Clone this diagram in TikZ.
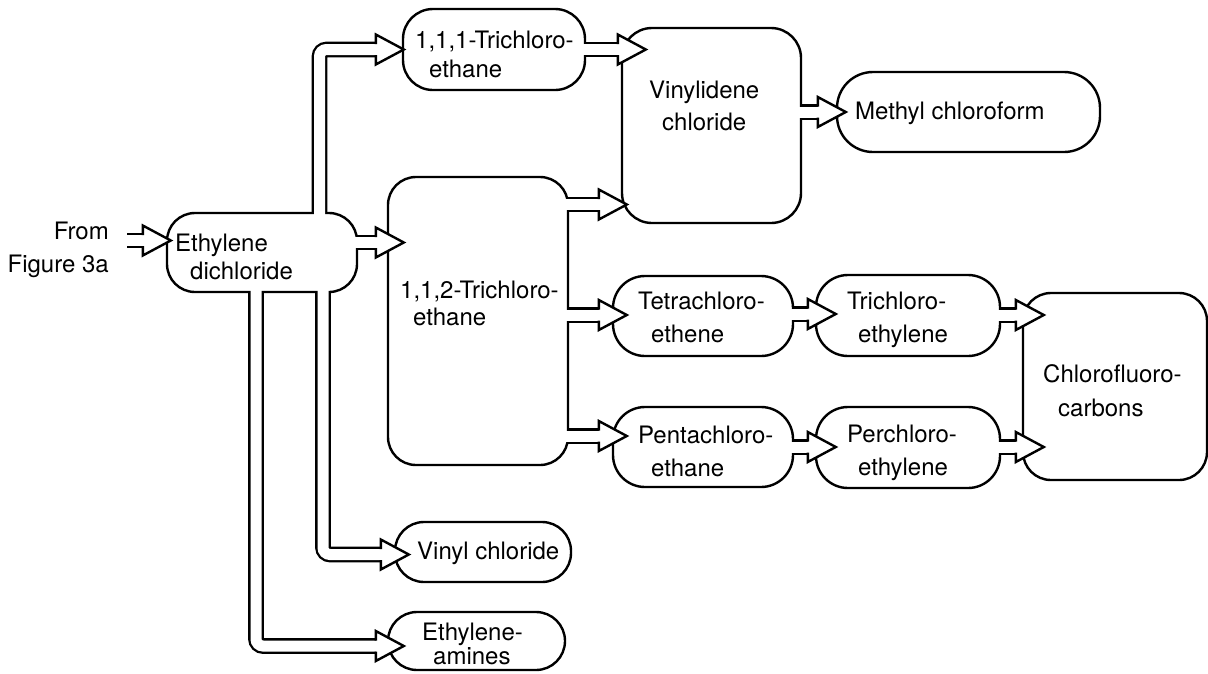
\documentclass[tikz,border=0pt]{standalone}
\usepackage{fontspec}
\setmainfont{TeX Gyre Heros}
\usetikzlibrary{calc}
\pgfdeclarelayer{pout}
\pgfdeclarelayer{pin}
\pgfdeclarelayer{phead}
\pgfsetlayers{pout,main,pin,phead}
\newcommand\arrowhead[1]{\draw[headst] ([shift={(-28,-5.5)}]#1) -- ([shift={(-28,-15)}]#1) -- (#1) -- ([shift={(-28,15)}]#1) -- ([shift={(-28,5.5)}]#1);}
\newcommand\allpipes[1]{%
  \draw[#1] (fromtail) -- ([xshift=-28]tip1);
  \draw[#1] ($(ED.east |- tip2)+(-3,0)$) -- ([xshift=-28]tip2);
  \draw[#1] ($(ED.north -| 319.5,0)+(0,3)$) |- ([xshift=-28]tip3);
  \draw[#1] ($(T111.east |- tip4)+(-3,0)$) -- ([xshift=-28]tip4);
  \draw[#1] ($(T112.east |- tip5)+(-3,0)$) -- ([xshift=-28]tip5);
  \draw[#1] ($(T112.east |- tip6)+(-3,0)$) -- ([xshift=-28]tip6);
  \draw[#1] ($(T112.east |- tip7)+(-3,0)$) -- ([xshift=-28]tip7);
  \draw[#1] ($(VDC.east |- tip8)+(-3,0)$) -- ([xshift=-28]tip8);
  \draw[#1] ($(TETRA.east |- tip9)+(-3,0)$) -- ([xshift=-28]tip9);
  \draw[#1] ($(PENTA.east |- tip10)+(-3,0)$) -- ([xshift=-28]tip10);
  \draw[#1] ($(TRIE.east |- tip11)+(-3,0)$) -- ([xshift=-28]tip11);
  \draw[#1] ($(PERC.east |- tip12)+(-3,0)$) -- ([xshift=-28]tip12);
  \draw[#1] ($(ED.south -| 323,0)+(0,-3)$) |- ([xshift=-28]tip13);
  \draw[#1] ($(ED.south -| 256,0)+(0,-3)$) |- ([xshift=-28]tip14);
}
\begin{document}
\begin{tikzpicture}[x=1pt,y=-1pt,
  font=\fontsize{24}{33}\selectfont,
  box/.style={draw, line width=2.4, fill=white, inner sep=0, rounded corners=#1},
  lbl/.style={inner sep=0, anchor=north west, align=left},
  pipeout/.style={line width=15.6, rounded corners=7, line cap=butt},
  pipein/.style={white, line width=11, rounded corners=7, line cap=butt},
  headst/.style={draw, line width=2.4, fill=white, line join=miter, miter limit=10}]
\useasboundingbox (0,0) rectangle (1208,673);
\begin{pgfonlayer}{pout}
\fill[white] (0,0) rectangle (1208,673);
\end{pgfonlayer}

% boxes
\node[box=28, minimum width=190, minimum height=79] (ED) at (262,252.5) {};
\node[box=30, minimum width=182, minimum height=81] (T111) at (494,49.5) {};
\node[box=30, minimum width=179, minimum height=195] (VDC) at (711.5,125.5) {};
\node[box=36, minimum width=263, minimum height=80] (MC) at (968.5,112) {};
\node[box=28, minimum width=180, minimum height=288] (T112) at (478,321) {};
\node[box=32, minimum width=180, minimum height=80] (TETRA) at (703,316) {};
\node[box=32, minimum width=180, minimum height=80] (PENTA) at (703,447) {};
\node[box=32, minimum width=184, minimum height=81] (TRIE) at (908,315.5) {};
\node[box=32, minimum width=184, minimum height=81] (PERC) at (908,447.5) {};
\node[box=28, minimum width=184, minimum height=187] (CFC) at (1115,386.5) {};
\node[box=29, minimum width=176, minimum height=60] (VCL) at (483,552) {};
\node[box=29, minimum width=177, minimum height=58] (EA) at (476.5,641) {};

% labels
\node[lbl, anchor=north east, align=right] (lblFrom) at (109,222) {From\\Figure 3a};
\node[lbl, font=\fontsize{24}{28}\selectfont] (lblED) at (175,234) {Ethylene\\\hspace*{15pt}dichloride};
\node[lbl, font=\fontsize{24}{29}\selectfont] (lbl111) at (415,31) {1,1,1-Trichloro-\\\hspace*{14pt}ethane};
\node[lbl, font=\fontsize{24}{32}\selectfont] (lblVDC) at (649,81) {Vinylidene\\\hspace*{13pt}chloride};
\node[lbl] (lblMC) at (855,102) {Methyl chloroform};
\node[lbl, font=\fontsize{24}{27}\selectfont] (lbl112) at (400,281) {1,1,2-Trichloro-\\\hspace*{13pt}ethane};
\node[lbl] (lblTetra) at (638,292) {Tetrachloro-\\\hspace*{13pt}ethene};
\node[lbl] (lblPenta) at (638,426) {Pentachloro-\\\hspace*{13pt}ethane};
\node[lbl] (lblTriE) at (847,292) {Trichloro-\\\hspace*{11pt}ethylene};
\node[lbl] (lblPerc) at (847,425) {Perchloro-\\\hspace*{11pt}ethylene};
\node[lbl, font=\fontsize{24}{34}\selectfont] (lblCFC) at (1043,364) {Chlorofluoro-\\\hspace*{15pt}carbons};
\node[lbl] (lblVCL) at (417,542) {Vinyl chloride};
\node[lbl, font=\fontsize{24}{24}\selectfont] (lblEA) at (422,623) {Ethylene-\\\hspace*{11pt}amines};

% arrow tips and free tail
\coordinate (fromtail) at ($(lblFrom.east |- 0,240.5)+(18,0)$);
\coordinate (tip1) at ($(ED.west |- 0,240.5)+(5,0)$);
\coordinate (tip2) at ($(T112.west |- 0,242.5)+(17,0)$);
\coordinate (tip3) at ($(T111.west)+(2,0)$);
\coordinate (tip4) at ($(VDC.west |- T111.center)+(25,0)$);
\coordinate (tip5) at ($(VDC.west |- 0,204.5)+(6,0)$);
\coordinate (tip6) at ($(TETRA.west |- 0,315)+(15,0)$);
\coordinate (tip7) at ($(PENTA.west |- 0,436)+(15,0)$);
\coordinate (tip8) at ($(MC.west)+(10,0)$);
\coordinate (tip9) at ($(TRIE.west |- 0,314)+(21,0)$);
\coordinate (tip10) at ($(PERC.west |- 0,447)+(21,0)$);
\coordinate (tip11) at ($(CFC.west |- 0,315)+(22,0)$);
\coordinate (tip12) at ($(CFC.west |- 0,447)+(22,0)$);
\coordinate (tip13) at ($(VCL.west |- 0,554.5)+(15,0)$);
\coordinate (tip14) at ($(EA.west |- 0,646)+(17,0)$);

\begin{pgfonlayer}{pout}
\allpipes{pipeout}
\end{pgfonlayer}
\begin{pgfonlayer}{pin}
\allpipes{pipein}
\end{pgfonlayer}
\begin{pgfonlayer}{phead}
\foreach \t in {tip1,tip2,tip3,tip4,tip5,tip6,tip7,tip8,tip9,tip10,tip11,tip12,tip13,tip14}{\arrowhead{\t}}
\end{pgfonlayer}
\end{tikzpicture}
\end{document}
